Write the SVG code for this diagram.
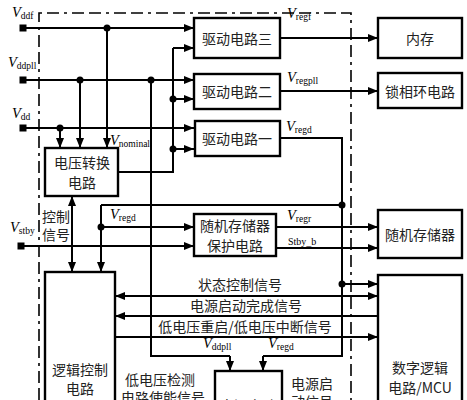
<svg xmlns="http://www.w3.org/2000/svg" width="467" height="400" viewBox="0 0 467 400">
<defs>
<marker id="ah" markerUnits="userSpaceOnUse" markerWidth="10" markerHeight="8" refX="10" refY="4" orient="auto-start-reverse"><path d="M0,0 L10,4 L0,8 z" fill="#000"/></marker>
<style>
.box{fill:#fff;stroke:#000;stroke-width:2.4}
.ln{fill:none;stroke:#000;stroke-width:2}
.ar{fill:none;stroke:#000;stroke-width:2;marker-end:url(#ah)}
.bi{fill:none;stroke:#000;stroke-width:2;marker-end:url(#ah);marker-start:url(#ah)}
.cn{font-family:"Noto Sans CJK SC","Liberation Serif",serif;font-size:14px;fill:#222;text-anchor:middle;dominant-baseline:central}
.v{font-family:"Liberation Serif",serif;font-size:14.5px;font-style:italic;fill:#000}
.s{font-family:"Liberation Serif",serif;font-size:9.5px;font-style:normal}
.sm{font-family:"Liberation Serif",serif;font-size:10px;fill:#000}
.dot{fill:#000}
.term{fill:#000}
</style>
</defs>
<rect width="467" height="400" fill="#fff"/>
<path d="M39,400 V13 H351 V400" fill="none" stroke="#000" stroke-width="1.6" stroke-dasharray="12 5 12 5 3 5"/>

<g id="connectors">
<path class="ar" d="M23,28 H194"/>
<path class="ar" d="M23,80 H194"/>
<path class="ar" d="M23,128 H194"/>
<path class="ar" d="M107,28 V148"/>
<path class="ar" d="M80,80 V148"/>
<path class="ar" d="M60,128 V148"/>
<path class="ln" d="M118,172 H173 V48"/>
<path class="ar" d="M173,48 H194"/>
<path class="ar" d="M173,99 H194"/>
<path class="ar" d="M173,149 H194"/>
<path class="ln" d="M151,80 V356 H230"/>
<path class="ar" d="M230,356 V371"/>
<path class="ar" d="M280,38 H378"/>
<path class="ar" d="M280,91 H378"/>
<path class="ln" d="M280,138 H342 V356 H263"/>
<path class="ar" d="M263,356 V371"/>
<path class="ln" d="M342,205 H101"/>
<path class="ar" d="M101,205 V272"/>
<path class="ar" d="M101,227 H194"/>
<path class="ar" d="M21,246 H194"/>
<path class="bi" d="M72,196 V272"/>
<path class="ar" d="M276,227 H378"/>
<path class="ar" d="M276,248 H378"/>
<path class="ar" d="M342,284 H378"/>
<path class="bi" d="M115,296 H378"/>
<path class="ar" d="M378,316 H115"/>
<path class="ar" d="M115,337 H378"/>
<circle class="dot" cx="107" cy="28" r="3.5"/>
<circle class="dot" cx="80" cy="80" r="3.5"/>
<circle class="dot" cx="151" cy="80" r="3.5"/>
<circle class="dot" cx="60" cy="128" r="3.5"/>
<circle class="dot" cx="173" cy="99" r="3.5"/>
<circle class="dot" cx="173" cy="149" r="3.5"/>
<circle class="dot" cx="342" cy="205" r="3.5"/>
<circle class="dot" cx="101" cy="227" r="3.5"/>
<circle class="dot" cx="342" cy="284" r="3.5"/>
<text class="v" x="110" y="145">V<tspan class="s" dy="2">nominal</tspan></text>
<text class="v" x="287" y="18">V<tspan class="s" dy="2">regf</tspan></text>
<text class="v" x="287" y="82">V<tspan class="s" dy="2">regpll</tspan></text>
<text class="v" x="286" y="131">V<tspan class="s" dy="2">regd</tspan></text>
<text class="v" x="110" y="219">V<tspan class="s" dy="2">regd</tspan></text>
<text class="v" x="287" y="220">V<tspan class="s" dy="2">regr</tspan></text>
<text class="sm" x="288" y="245">Stby_b</text>
<text class="v" x="203" y="348">V<tspan class="s" dy="2">ddpll</tspan></text>
<text class="v" x="268" y="348">V<tspan class="s" dy="2">regd</tspan></text>
<text class="cn" x="240" y="284">状态控制信号</text>
<text class="cn" x="246" y="305">电源启动完成信号</text>
<text class="cn" x="245" y="326">低电压重启/低电压中断信号</text>
<text class="cn" x="56" y="216">控制</text>
<text class="cn" x="56" y="234">信号</text>
<text class="cn" x="160" y="379">低电压检测</text>
<text class="cn" x="163" y="397">电路使能信号</text>
<text class="cn" x="312" y="383">电源启</text>
<text class="cn" x="312" y="401">动信号</text>
</g>

<g id="terminals">
<rect class="term" x="19.5" y="24.5" width="7" height="7"/>
<text class="v" x="12" y="17">V<tspan class="s" dy="2">ddf</tspan></text>
<rect class="term" x="19.5" y="76.5" width="7" height="7"/>
<text class="v" x="8" y="67">V<tspan class="s" dy="2">ddpll</tspan></text>
<rect class="term" x="19.5" y="124.5" width="7" height="7"/>
<text class="v" x="12" y="118">V<tspan class="s" dy="2">dd</tspan></text>
<rect class="term" x="17.5" y="242.5" width="7" height="7"/>
<text class="v" x="10" y="232">V<tspan class="s" dy="2">stby</tspan></text>
</g>

<g id="drive3"><rect class="box" x="194" y="18" width="86" height="40"/><text class="cn" x="237" y="38">驱动电路三</text></g>
<g id="drive2"><rect class="box" x="194" y="74" width="86" height="35"/><text class="cn" x="237" y="91">驱动电路二</text></g>
<g id="drive1"><rect class="box" x="195" y="121" width="85" height="35"/><text class="cn" x="237" y="138">驱动电路一</text></g>
<g id="memory"><rect class="box" x="378" y="18" width="84" height="40"/><text class="cn" x="420" y="38">内存</text></g>
<g id="pll"><rect class="box" x="378" y="73" width="84" height="35"/><text class="cn" x="420" y="91">锁相环电路</text></g>
<g id="vconv"><rect class="box" x="45" y="148" width="73" height="48"/><text class="cn" x="82" y="162">电压转换</text><text class="cn" x="82" y="182">电路</text></g>
<g id="ramprot"><rect class="box" x="194" y="214" width="82" height="42"/><text class="cn" x="235" y="225">随机存储器</text><text class="cn" x="235" y="245">保护电路</text></g>
<g id="ram"><rect class="box" x="378" y="210" width="84" height="48"/><text class="cn" x="420" y="234">随机存储器</text></g>
<g id="logic"><rect class="box" x="45" y="272" width="70" height="140"/><text class="cn" x="80" y="369">逻辑控制</text><text class="cn" x="80" y="388">电路</text></g>
<g id="mcu"><rect class="box" x="378" y="275" width="84" height="140"/><text class="cn" x="420" y="367">数字逻辑</text><text class="cn" x="420" y="387">电路/MCU</text></g>
<g id="powerstart"><rect class="box" x="215" y="371" width="67" height="50"/><text class="cn" x="248" y="405">电源启动</text></g>
</svg>
